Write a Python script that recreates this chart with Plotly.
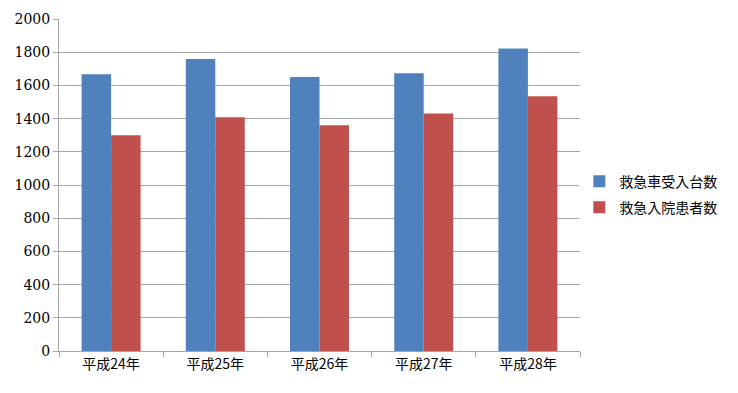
import plotly.graph_objects as go

categories = ["平成24年", "平成25年", "平成26年", "平成27年", "平成28年"]
ambulance = [1667, 1759, 1651, 1673, 1823]
admissions = [1299, 1408, 1360, 1430, 1534]
series_names = ["救急車受入台数", "救急入院患者数"]

fig = go.Figure()
fig.add_trace(go.Bar(x=categories, y=ambulance, name=series_names[0], legendgroup="a",
                     marker=dict(color="#4F81BD", line=dict(width=0))))
fig.add_trace(go.Bar(x=categories, y=admissions, name=series_names[1], legendgroup="b",
                     marker=dict(color="#C0504D", line=dict(width=0))))

serif = "DejaVu Serif"
fig.update_layout(
    width=738, height=393,
    margin=dict(l=59, r=158, t=19, b=42, autoexpand=False),
    paper_bgcolor="white", plot_bgcolor="white",
    barmode="group", bargap=0.434, bargroupgap=0,
    font=dict(family=serif, size=14, color="black"),
    legend=dict(xref="container", yref="container", x=0.785, y=0.505,
                yanchor="middle", xanchor="left",
                font=dict(family="Noto Sans CJK JP", size=14, color="black"),
                tracegroupgap=5, itemwidth=30),
    showlegend=True,
)
fig.update_yaxes(range=[0, 2000], dtick=200, showgrid=True, gridcolor="#A6A6A6", gridwidth=1,
                 showline=True, linecolor="#A6A6A6", linewidth=1,
                 ticks="outside", ticklen=5, tickcolor="#A6A6A6",
                 tickfont=dict(family=serif, size=14), zeroline=False)
fig.update_xaxes(showline=True, linecolor="#A6A6A6", linewidth=1,
                 ticks="outside", ticklen=5, tickcolor="#A6A6A6", tickson="boundaries",
                 tickfont=dict(family="Noto Sans CJK JP", size=14))

fig.write_html("out.html")
